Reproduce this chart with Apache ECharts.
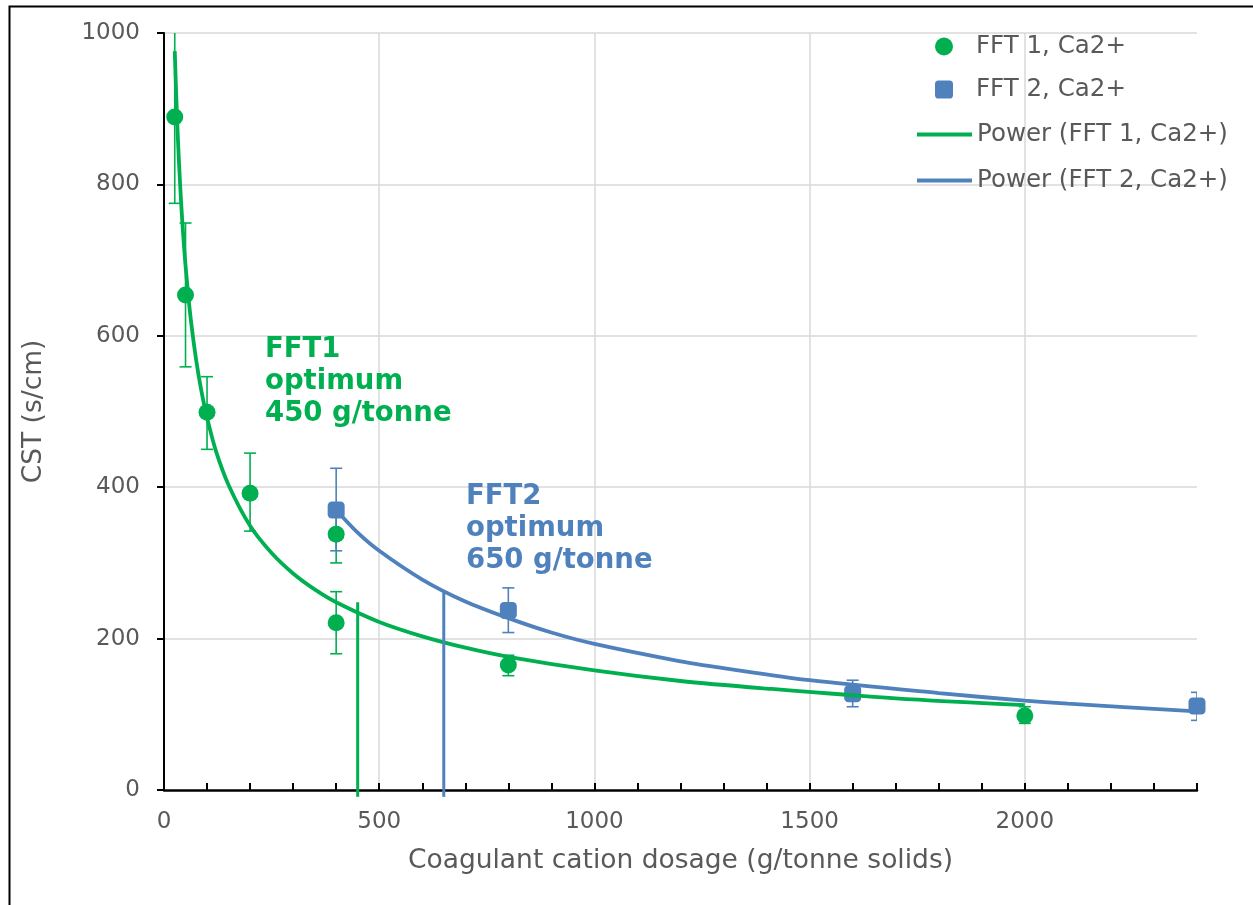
<!DOCTYPE html>
<html><head><meta charset="utf-8">
<script src="https://cdn.jsdelivr.net/npm/echarts@6/dist/echarts.min.js"></script>
<style>html,body{margin:0;padding:0;background:#fff}#c{width:1253px;height:905px}</style>
</head><body><div id="c"></div>
<script>
// ---- data ----
const fft1X = [25, 50, 100, 200, 400, 400, 800, 2000];
const fft1Y = [889, 654, 499, 392, 338, 221, 165, 98];
const fft1Low = [775, 559, 450, 342, 300, 180, 151, 88];
const fft1High = [1004, 749, 546, 445, 376, 262, 178, 110];

const fft2X = [400, 800, 1600, 2400];
const fft2Y = [370, 237, 127, 111];
const fft2Low = [316, 208, 110, 92];
const fft2High = [425, 267, 145, 129];

// power trendlines
const fit1X = [25, 30, 35, 40, 45, 50, 60, 70, 80, 90, 100, 120, 150, 200, 250, 300, 350, 400, 500, 600, 700, 800, 1000, 1200, 1400, 1700, 2000];
const fit1Y = [976, 892, 827, 774, 730, 693, 633, 587, 549, 518, 492, 449, 403, 349, 313, 286, 265, 248, 222, 203, 188, 176, 158, 144, 134, 121, 112];
const fit2X = [400, 450, 500, 600, 700, 800, 900, 1000, 1200, 1300, 1500, 1800, 2000, 2100, 2400];
const fit2Y = [370, 340, 316, 278, 249, 227, 208, 193, 170, 161, 145, 128, 118, 114, 104];

// optimum markers [x, bottom, top]
const opt1 = [450, -9, 248];
const opt2 = [650, -9, 261];

const yTicks = [0, 200, 400, 600, 800, 1000];
const xLabelValues = [0, 500, 1000, 1500, 2000];

const GREEN = '#00B050';
const BLUE = '#4F81BD';
const FONT = '"DejaVu Sans", Verdana, sans-serif';
const TXT = '#595959';

const zip2 = (a, b) => a.map((v, i) => [v, b[i]]);
const zip3 = (a, b, c) => a.map((v, i) => [v, b[i], c[i]]);

function errBar(color) {
  return function (params, api) {
    const x = api.value(0), lo = api.value(1), hi = api.value(2);
    const p1 = api.coord([x, lo]), p2 = api.coord([x, hi]);
    const hw = 6;
    const style = { stroke: color, lineWidth: 1.6 };
    return {
      type: 'group', children: [
        { type: 'line', shape: { x1: p1[0], y1: p1[1], x2: p2[0], y2: p2[1] }, style },
        { type: 'line', shape: { x1: p1[0] - hw, y1: p1[1], x2: p1[0] + hw, y2: p1[1] }, style },
        { type: 'line', shape: { x1: p2[0] - hw, y1: p2[1], x2: p2[0] + hw, y2: p2[1] }, style }
      ]
    };
  };
}

const LINE_ICON = 'path://M0,0 L55,0 L55,4 L0,4 Z';
const SQUARE_ICON = 'path://M2,0 L8,0 Q10,0 10,2 L10,8 Q10,10 8,10 L2,10 Q0,10 0,8 L0,2 Q0,0 2,0 Z';

const chart = echarts.init(document.getElementById('c'), null, { renderer: 'canvas' });
const legendBase = {
  orient: 'vertical', padding: 0, itemHeight: 18, selectedMode: false,
  symbolKeepAspect: true,
  textStyle: { fontFamily: FONT, fontSize: 24.5, color: TXT }
};
chart.setOption({
  animation: false,
  backgroundColor: '#fff',
  textStyle: { fontFamily: FONT },
  grid: { left: 164, right: 56, top: 33, bottom: 115 },
  legend: [
    Object.assign({}, legendBase, { left: 935, top: 34, itemWidth: 18,
      textStyle: Object.assign({}, legendBase.textStyle, { padding: [0, 0, 0, 18] }),
      data: [{ name: 'FFT 1, Ca2+', icon: 'circle' }] }),
    Object.assign({}, legendBase, { left: 935, top: 77, itemWidth: 18,
      textStyle: Object.assign({}, legendBase.textStyle, { padding: [0, 0, 0, 18] }),
      data: [{ name: 'FFT 2, Ca2+', icon: SQUARE_ICON }] }),
    Object.assign({}, legendBase, { left: 917, top: 122, itemWidth: 55,
      data: [{ name: 'Power (FFT 1, Ca2+)', icon: LINE_ICON }] }),
    Object.assign({}, legendBase, { left: 917, top: 168, itemWidth: 55,
      data: [{ name: 'Power (FFT 2, Ca2+)', icon: LINE_ICON }] })
  ],
  xAxis: [{
    type: 'value', min: 0, max: 2400, interval: 500, position: 'bottom',
    name: 'Coagulant cation dosage (g/tonne solids)', nameLocation: 'middle', nameGap: 58,
    nameTextStyle: { fontFamily: FONT, fontSize: 26.5, color: TXT },
    axisLine: { show: true, lineStyle: { color: '#000', width: 2.5 } },
    axisTick: { show: true, inside: true, length: 7, lineStyle: { color: '#000', width: 2 } },
    axisLabel: { fontFamily: FONT, fontSize: 23, color: TXT, margin: 21,
      formatter: v => xLabelValues.indexOf(v) >= 0 ? String(v) : '' },
    splitLine: { show: true, showMinLine: false, showMaxLine: false, lineStyle: { color: '#d9d9d9', width: 1.5 } }
  }, {
    type: 'value', min: 0, max: 2400, interval: 100, position: 'bottom',
    axisLine: { show: false },
    axisTick: { show: true, inside: true, length: 7, lineStyle: { color: '#000', width: 2 } },
    axisLabel: { show: false }, splitLine: { show: false }
  }],
  yAxis: {
    type: 'value', min: yTicks[0], max: yTicks[yTicks.length - 1], interval: 200,
    name: 'CST (s/cm)', nameLocation: 'middle', nameGap: 116, nameRotate: 90,
    nameTextStyle: { fontFamily: FONT, fontSize: 26.5, color: TXT },
    axisLine: { show: true, lineStyle: { color: '#000', width: 2 } },
    axisTick: { show: true, inside: false, length: 7, lineStyle: { color: '#000', width: 2 } },
    axisLabel: { fontFamily: FONT, fontSize: 23, color: TXT, margin: 24, formatter: v => String(v) },
    splitLine: { show: true, showMinLine: false, lineStyle: { color: '#d9d9d9', width: 1.5 } }
  },
  series: [
    { name: 'err1', type: 'custom', renderItem: errBar(GREEN), clip: true,
      encode: { x: 0, y: [1, 2] }, data: zip3(fft1X, fft1Low, fft1High), z: 2 },
    { name: 'err2', type: 'custom', renderItem: errBar(BLUE), clip: true,
      encode: { x: 0, y: [1, 2] }, data: zip3(fft2X, fft2Low, fft2High), z: 2 },
    { name: 'FFT 1, Ca2+', type: 'scatter', symbol: 'circle', symbolSize: 17,
      itemStyle: { color: GREEN, opacity: 1 }, data: zip2(fft1X, fft1Y), z: 3 },
    { name: 'FFT 2, Ca2+', type: 'scatter', symbol: 'roundRect', symbolSize: 17,
      itemStyle: { color: BLUE, opacity: 1 }, data: zip2(fft2X, fft2Y), z: 3 },
    { name: 'Power (FFT 1, Ca2+)', type: 'line', smooth: 0.3, symbol: 'none',
      lineStyle: { color: GREEN, width: 3.8 }, itemStyle: { color: GREEN }, data: zip2(fit1X, fit1Y), z: 4 },
    { name: 'Power (FFT 2, Ca2+)', type: 'line', smooth: 0.3, symbol: 'none',
      lineStyle: { color: BLUE, width: 3.8 }, itemStyle: { color: BLUE }, data: zip2(fit2X, fit2Y), z: 4 },
    { name: 'opt1', type: 'line', symbol: 'none', clip: false,
      lineStyle: { color: GREEN, width: 3 }, data: [[opt1[0], opt1[1]], [opt1[0], opt1[2]]], z: 4 },
    { name: 'opt2', type: 'line', symbol: 'none', clip: false,
      lineStyle: { color: BLUE, width: 3 }, data: [[opt2[0], opt2[1]], [opt2[0], opt2[2]]], z: 4 }
  ],
  graphic: [
    { type: 'rect', left: 7, top: 4, z: 100, silent: true,
      shape: { x: 0, y: 0, width: 1300, height: 1000 },
      style: { fill: 'none', stroke: '#000', lineWidth: 2 } },
    { type: 'text', left: 265, top: 334, z: 100,
      style: { text: 'FFT1\noptimum\n450 g/tonne', font: 'bold 27.5px ' + FONT, fill: GREEN, lineHeight: 32 } },
    { type: 'text', left: 466, top: 481, z: 100,
      style: { text: 'FFT2\noptimum\n650 g/tonne', font: 'bold 27.5px ' + FONT, fill: BLUE, lineHeight: 32 } }
  ]
});
</script>
</body></html>
